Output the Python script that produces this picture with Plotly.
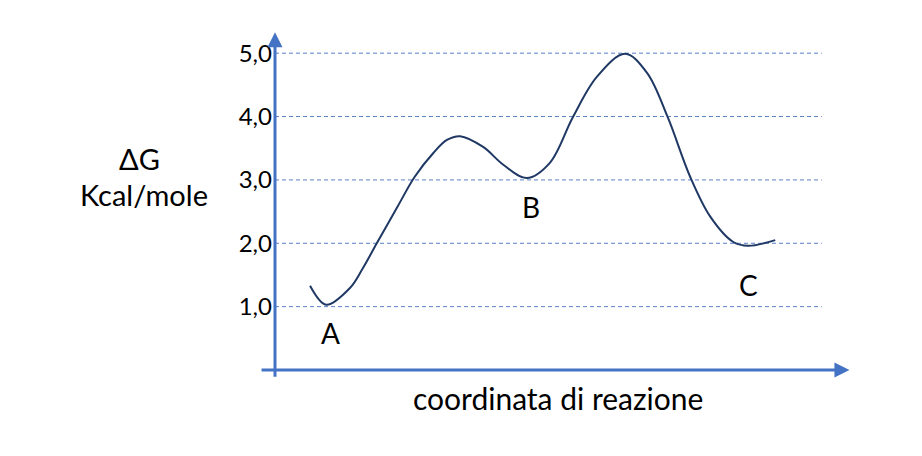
import plotly.graph_objects as go

# reaction coordinate (arbitrary units 0-10) and ΔG values
coord = [0.61, 0.89, 1.30, 1.53, 1.77, 2.12, 2.43, 2.75, 2.99, 3.22, 3.62, 3.97, 4.38,
         4.78, 5.18, 5.60, 6.09, 6.47, 6.83, 7.22, 7.57, 7.97, 8.23, 8.70]
dG    = [1.33, 1.03, 1.29, 1.61, 2.00, 2.56, 3.05, 3.42, 3.63, 3.69, 3.52, 3.24, 3.03,
         3.27, 3.99, 4.63, 4.99, 4.69, 3.99, 3.05, 2.42, 2.02, 1.96, 2.05]

tick_vals = [1, 2, 3, 4, 5]
tick_text = ["1,0", "2,0", "3,0", "4,0", "5,0"]

points = ["A", "B", "C"]
point_x = [0.96, 4.45, 8.23]
point_y = [0.58, 2.57, 1.34]

axis_col = "#4472C4"
FONT = "Lato"
YTOP = 5.35

fig = go.Figure()
fig.add_trace(go.Scatter(x=coord, y=dG, mode="lines",
                         line=dict(color="#1F3864", width=2, shape="spline", smoothing=1.0),
                         hoverinfo="skip", showlegend=False))

for v in tick_vals:
    fig.add_shape(type="line", xref="x", yref="y", x0=0, x1=9.51, y0=v, y1=v,
                  line=dict(color="#5B7FC7", width=1, dash="4px,3px"), layer="below")

ann = []
# axes with arrows
ann.append(dict(xref="x", yref="y", axref="x", ayref="y", x=0, y=5.33, ax=0, ay=-0.13,
                showarrow=True, arrowhead=2, arrowsize=1, arrowwidth=3, arrowcolor=axis_col, text=""))
ann.append(dict(xref="x", yref="y", axref="x", ayref="y", x=9.99, y=0.0, ax=-0.26, ay=0.0,
                showarrow=True, arrowhead=2, arrowsize=1, arrowwidth=3, arrowcolor=axis_col, text=""))
for t, x, y in zip(points, point_x, point_y):
    ann.append(dict(xref="x", yref="y", x=x, y=y, text=t, showarrow=False,
                    xanchor="center", yanchor="middle",
                    font=dict(family=FONT, size=28, color="black")))
ann.append(dict(xref="paper", yref="paper", x=0.492, y=-0.083, text="coordinata di reazione",
                xanchor="center", yanchor="middle",
                showarrow=False, font=dict(family=FONT, size=30, color="black")))
ann.append(dict(xref="paper", yref="paper", x=-0.235, y=0.625, text="ΔG", showarrow=False,
                xanchor="center", yanchor="middle",
                font=dict(family=FONT, size=29, color="black")))
ann.append(dict(xref="paper", yref="paper", x=-0.228, y=0.519, text="Kcal/mole", showarrow=False,
                xanchor="center", yanchor="middle",
                font=dict(family=FONT, size=29, color="black")))

fig.update_layout(
    width=914, height=448,
    margin=dict(l=267, r=72, t=23, b=86, autoexpand=False),
    paper_bgcolor="white", plot_bgcolor="white",
    annotations=ann,
    xaxis=dict(range=[0, 10], showgrid=False, zeroline=False, showticklabels=False, showline=False, ticks=""),
    yaxis=dict(range=[0, YTOP], showgrid=False, zeroline=False, showline=False, ticks="",
               tickvals=tick_vals, ticktext=tick_text, ticklabelstandoff=2,
               tickfont=dict(family=FONT, size=24, color="black")),
)
fig.write_html("out.html")
